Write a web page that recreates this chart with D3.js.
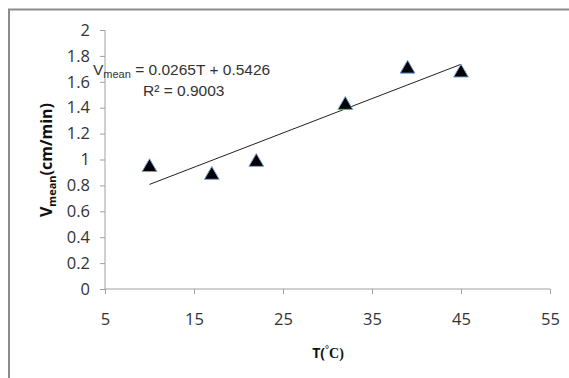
<!DOCTYPE html>
<html>
<head>
<meta charset="utf-8">
<script src="https://cdn.jsdelivr.net/npm/d3@7"></script>
<style>
  body { margin: 0; background: #fff; }
</style>
</head>
<body>
<script>
// data
const temps = [10, 17, 22, 32, 39, 45];
const vmean = [0.94, 0.88, 0.98, 1.42, 1.70, 1.67];
const xTicks = [5, 15, 25, 35, 45, 55];
const yTicks = [0, 0.2, 0.4, 0.6, 0.8, 1, 1.2, 1.4, 1.6, 1.8, 2];
const slope = 0.0265, intercept = 0.5426;
const trendRange = [10, 45];

const width = 569, height = 378;
const font = '"Open Sans", sans-serif';
const svg = d3.select('body').append('svg').attr('width', width).attr('height', height)
  .attr('font-family', font);

// outer frame of the chart area
svg.append('path')
  .attr('d', 'M9,' + height + ' V9.5 H' + width)
  .attr('fill', 'none').attr('stroke', '#8c8c8c').attr('stroke-width', 2);

const x = d3.scaleLinear().domain([5, 55]).range([105, 550]);
const y = d3.scaleLinear().domain([0, 2]).range([289, 30]);

// y axis
const yAxis = svg.append('g').attr('transform', 'translate(105,0)')
  .call(d3.axisLeft(y).tickValues(yTicks).tickSize(5).tickPadding(10).tickFormat(d3.format('')));
// x axis
const xAxis = svg.append('g').attr('transform', 'translate(0,289)')
  .call(d3.axisBottom(x).tickValues(xTicks).tickSize(5).tickPadding(19));

[yAxis, xAxis].forEach(a => {
  a.attr('font-family', font).attr('font-size', 16.5);
  a.select('.domain').attr('stroke', '#a0a0a0');
  a.selectAll('.tick line').attr('stroke', '#a0a0a0');
  a.selectAll('text').attr('fill', '#333');
});
xAxis.select('.domain').attr('d', 'M105,0H550');
yAxis.select('.domain').attr('d', 'M0,289V30');

// trend line
svg.append('line')
  .attr('x1', x(trendRange[0])).attr('y1', y(slope * trendRange[0] + intercept))
  .attr('x2', x(trendRange[1])).attr('y2', y(slope * trendRange[1] + intercept))
  .attr('stroke', '#222').attr('stroke-width', 1);

// triangle markers
const tri = d3.symbol().type(d3.symbolTriangle).size(95);
svg.selectAll('path.pt')
  .data(temps.map((t, i) => ({t: t, v: vmean[i]})))
  .enter().append('path')
  .attr('class', 'pt')
  .attr('d', tri)
  .attr('transform', d => 'translate(' + x(d.t) + ',' + y(d.v) + ')')
  .attr('fill', '#000').attr('stroke', '#7aa3d6').attr('stroke-width', 1);

// trend equation
const eqFont = '"Liberation Sans", Arial, sans-serif';
const eq = svg.append('text').attr('x', 93).attr('y', 75).attr('font-size', 15.5)
  .attr('font-family', eqFont).attr('fill', '#333');
eq.append('tspan').text('V');
eq.append('tspan').attr('font-size', 11).attr('dy', 3).text('mean');
eq.append('tspan').attr('dy', -3).text(' = 0.0265T + 0.5426');
svg.append('text').attr('x', 143).attr('y', 96).attr('font-size', 15.5)
  .attr('font-family', eqFont).attr('fill', '#333').text('R² = 0.9003');

// y axis title
const yl = svg.append('text')
  .attr('transform', 'translate(52,160) rotate(-90)')
  .attr('text-anchor', 'middle').attr('font-weight', 'bold').attr('font-size', 16).attr('fill', '#111');
yl.append('tspan').text('V');
yl.append('tspan').attr('font-size', 11).attr('dy', 4).text('mean');
yl.append('tspan').attr('dy', -4).text('(cm/min)');

// x axis title
const xl = svg.append('text').attr('x', 328).attr('y', 358)
  .attr('text-anchor', 'middle').attr('font-weight', 'bold').attr('font-size', 14).attr('fill', '#111');
xl.append('tspan').text('T(');
xl.append('tspan').attr('font-family', '"Liberation Serif", serif').attr('font-size', 10).attr('dy', -5).text('°');
xl.append('tspan').attr('font-family', '"Liberation Serif", serif').attr('dy', 5).text('C)');
</script>
</body>
</html>
